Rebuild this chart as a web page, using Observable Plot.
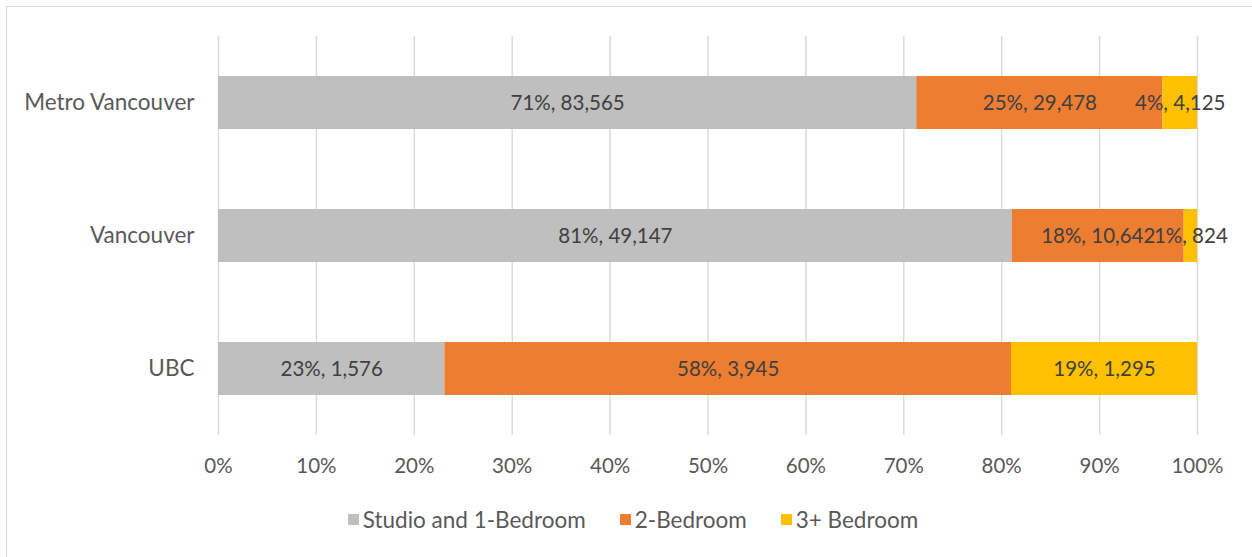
<!DOCTYPE html>
<html>
<head>
<meta charset="utf-8">
<script src="https://cdn.jsdelivr.net/npm/d3@7"></script>
<script src="https://cdn.jsdelivr.net/npm/@observablehq/plot@0.6"></script>
<style>
  html, body { margin: 0; padding: 0; background: #fff; width: 1252px; height: 557px; overflow: hidden; }
  #frame { position: absolute; left: 6px; top: 6px; width: 1300px; height: 600px; border: 1px solid #d9d9d9; box-sizing: border-box; }
  #chart { position: absolute; left: 0; top: 0; }
  #legend { position: absolute; left: 0; top: 506px; width: 1266px; display: flex; justify-content: center; align-items: center;
            font-family: Lato, "Open Sans", sans-serif; font-size: 22.5px; color: #595959; }
  .item { display: flex; align-items: center; margin: 0 17px; }
  .sw { width: 11px; height: 11px; margin-right: 4px; }
</style>
</head>
<body>
<div id="frame"></div>
<div id="chart"></div>
<div id="legend"></div>
<script>
const regions = ["Metro Vancouver", "Vancouver", "UBC"];
const types = ["Studio and 1-Bedroom", "2-Bedroom", "3+ Bedroom"];
const colors = ["#BFBFBF", "#ED7D31", "#FFC000"];
const studio = [83565, 49147, 1576];
const twoBed = [29478, 10642, 3945];
const threeBed = [4125, 824, 1295];
const xTicks = [0, 0.1, 0.2, 0.3, 0.4, 0.5, 0.6, 0.7, 0.8, 0.9, 1.0];

const series = [studio, twoBed, threeBed];
const data = [];
regions.forEach((r, i) => {
  const total = studio[i] + twoBed[i] + threeBed[i];
  types.forEach((t, j) => {
    data.push({region: r, type: t, count: series[j][i], share: series[j][i] / total});
  });
});

const fmt = d3.format(",");
const chart = Plot.plot({
  width: 1252,
  height: 490,
  marginLeft: 218,
  marginRight: 55,
  marginTop: 36,
  marginBottom: 55,
  style: {fontFamily: "Lato, 'Open Sans', sans-serif", fontSize: "20px", color: "#595959", background: "transparent"},
  x: {domain: [0, 1], ticks: xTicks, tickFormat: d3.format(".0%"), label: null, tickSize: 0, tickPadding: 23},
  y: {domain: regions, paddingInner: 0.6, paddingOuter: 0.3, label: null, tickSize: 0, tickPadding: 24},
  color: {domain: types, range: colors},
  marks: [
    Plot.gridX(xTicks, {stroke: "#d9d9d9", strokeOpacity: 1, strokeWidth: 1.4}),
    Plot.barX(data, Plot.stackX({x: "count", y: "region", fill: "type", offset: "normalize", order: types})),
    Plot.text(data, Plot.stackX({
      x: "count", y: "region", z: "type", offset: "normalize", order: types,
      text: d => `${Math.round(d.share * 100)}%, ${fmt(d.count)}`,
      fill: "#404040", fontSize: 20.5
    })),
    Plot.axisX({ticks: xTicks, tickFormat: d3.format(".0%"), tickSize: 0, tickPadding: 23, label: null, fontSize: 20.5}),
    Plot.axisY({tickSize: 0, tickPadding: 24, label: null, fontSize: 22.5})
  ]
});
document.getElementById("chart").appendChild(chart);

const legend = document.getElementById("legend");
types.forEach((t, j) => {
  const it = document.createElement("div");
  it.className = "item";
  const sw = document.createElement("div");
  sw.className = "sw";
  sw.style.background = colors[j];
  const lb = document.createElement("span");
  lb.textContent = t;
  it.appendChild(sw);
  it.appendChild(lb);
  legend.appendChild(it);
});
</script>
</body>
</html>
